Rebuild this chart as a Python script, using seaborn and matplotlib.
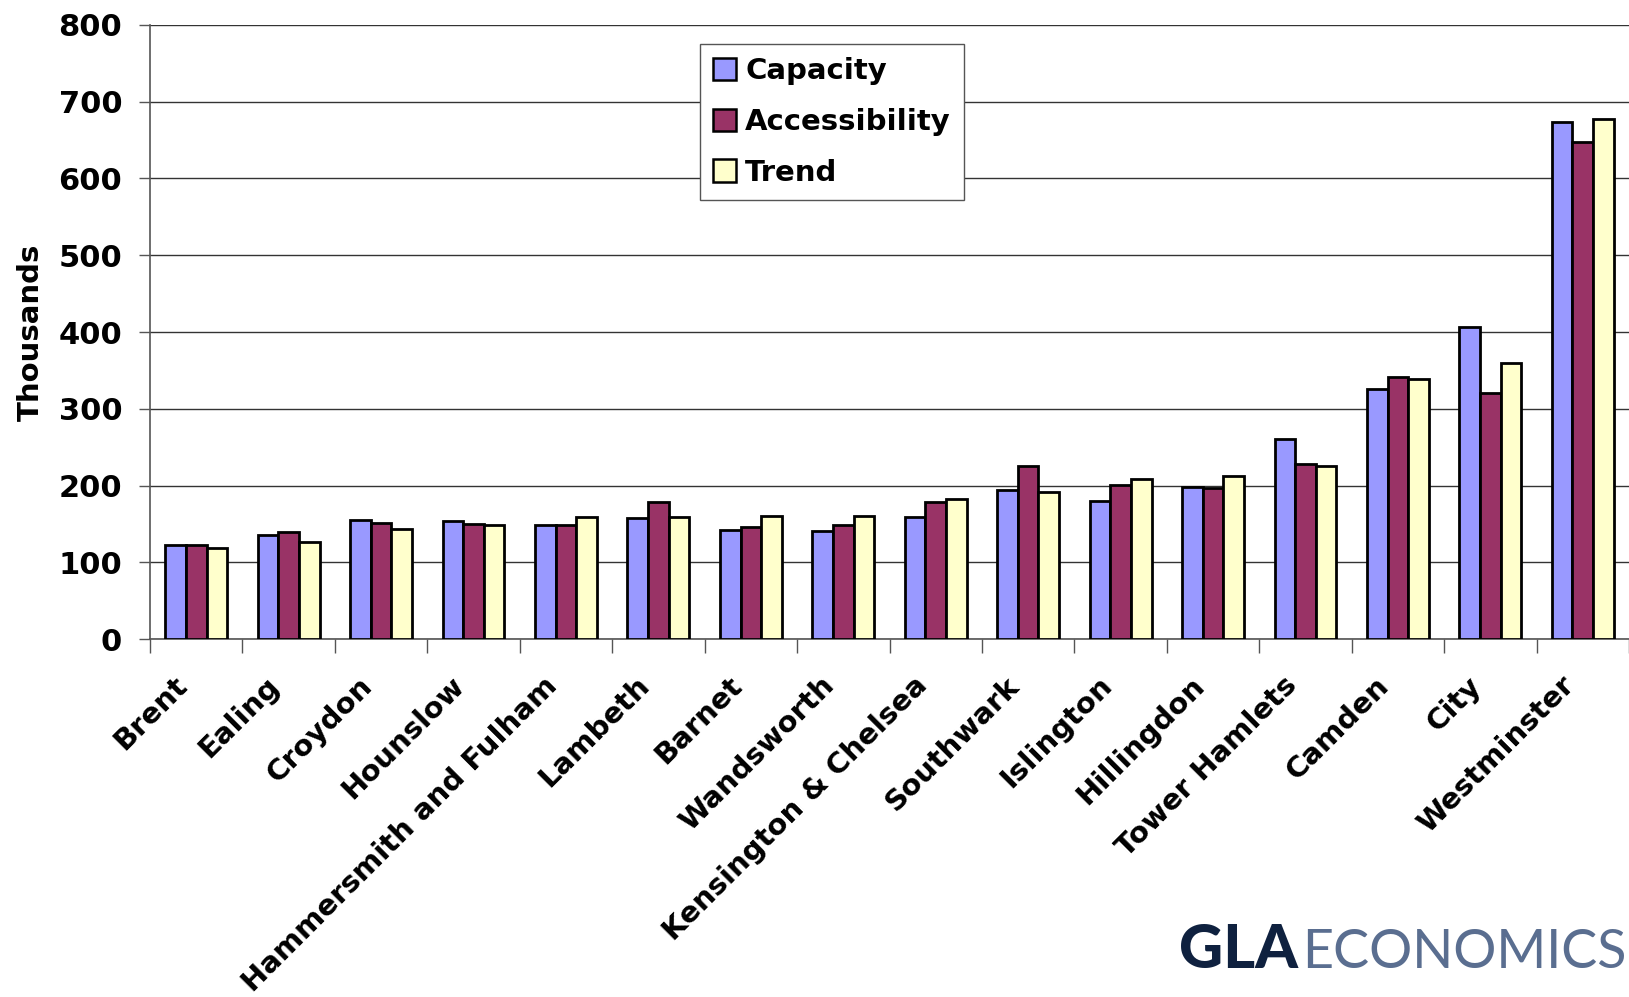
import matplotlib
matplotlib.use("Agg")
import matplotlib.pyplot as plt
import matplotlib.transforms as mtransforms
from matplotlib.ticker import FixedLocator
import seaborn as sns
import pandas as pd
import numpy as np

boroughs = ["Brent", "Ealing", "Croydon", "Hounslow", "Hammersmith and Fulham",
            "Lambeth", "Barnet", "Wandsworth", "Kensington & Chelsea", "Southwark",
            "Islington", "Hillingdon", "Tower Hamlets", "Camden", "City", "Westminster"]
capacity = [122, 136, 155, 154, 148, 158, 142, 141, 159, 194, 180, 198, 261, 326, 407, 674]
accessibility = [122, 140, 151, 150, 148, 179, 146, 149, 179, 225, 201, 197, 228, 342, 321, 648]
trend = [119, 126, 143, 148, 159, 159, 160, 160, 182, 191, 209, 212, 226, 339, 360, 677]
series_names = ["Capacity", "Accessibility", "Trend"]
series_colors = ["#9999FF", "#993366", "#FFFFCC"]
y_ticks = [0, 100, 200, 300, 400, 500, 600, 700, 800]

df = pd.DataFrame({
    "Borough": boroughs * 3,
    "Series": [s for s in series_names for _ in boroughs],
    "Value": capacity + accessibility + trend,
})

sns.set_style("white")
plt.rcParams["font.family"] = ["DejaVu Sans"]
plt.rcParams["text.color"] = "black"
plt.rcParams["axes.labelcolor"] = "black"
plt.rcParams["xtick.color"] = "black"
plt.rcParams["ytick.color"] = "black"

fig = plt.figure(figsize=(16.29, 9.97), dpi=100)
ax = fig.add_axes([150 / 1629, 1 - 639 / 997, 1 - 150 / 1629, (639 - 25) / 997])

sns.barplot(data=df, x="Borough", y="Value", hue="Series", order=boroughs,
            hue_order=series_names, palette=series_colors, width=0.67,
            edgecolor="black", linewidth=2.0, saturation=1, ax=ax, zorder=3)

ax.set_ylim(0, 800)
ax.set_xlim(-0.5, len(boroughs) - 0.5)
ax.set_yticks(y_ticks)
ax.yaxis.grid(True, color="#333333", linewidth=1.0, zorder=0)
ax.set_axisbelow(True)

for s in ["top", "right"]:
    ax.spines[s].set_visible(False)
for s in ["left", "bottom"]:
    ax.spines[s].set_color("#555555")
    ax.spines[s].set_linewidth(1.2)

ax.tick_params(axis="y", which="major", length=8, width=1.0, color="#555555",
               labelsize=22, pad=12, left=True, labelcolor="black")
for lbl in ax.get_yticklabels():
    lbl.set_fontweight("bold")

ax.set_xticks(np.arange(len(boroughs)))
ax.set_xticklabels(boroughs, rotation=45, ha="right", rotation_mode="anchor",
                   fontsize=21, fontweight="bold", color="black")
ax.tick_params(axis="x", which="major", length=0, pad=24)
shift = mtransforms.ScaledTranslation(-23 / 100, 1 / 100, fig.dpi_scale_trans)
for lbl in ax.get_xticklabels():
    lbl.set_transform(lbl.get_transform() + shift)
ax.xaxis.set_minor_locator(FixedLocator(np.arange(len(boroughs) + 1) - 0.5))
ax.tick_params(axis="x", which="minor", length=10, width=1.0, color="#555555", bottom=True)

ax.set_xlabel("")
ax.set_ylabel("Thousands", fontsize=21, fontweight="bold", labelpad=10, color="black")

leg = ax.legend(loc="upper left", bbox_to_anchor=((700 - 150) / 1479, (639 - 44) / 614),
                frameon=True, fancybox=False, edgecolor="#555555", framealpha=1,
                prop={"size": 21, "weight": "bold"}, handlelength=0.8, handleheight=0.8,
                handletextpad=0.3, labelspacing=0.78, borderpad=0.45, borderaxespad=0)
leg.get_frame().set_linewidth(1.0)
for h in leg.legend_handles:
    h.set_edgecolor("black")
    h.set_linewidth(1.8)

# Logo text
base_y = 1 - 968 / 997
gla = fig.text(1179 / 1629, base_y, "GLA", fontsize=44, fontweight="black",
               color="#0F213F", family="Lato", ha="left", va="baseline")
eco = fig.text(1302 / 1629, base_y, "ECONOMICS", fontsize=44, fontweight="normal",
               color="#5A6E90", family="Lato", ha="left", va="baseline")
renderer = fig.canvas.get_renderer()
target_w = 1627 - 1302
w = eco.get_window_extent(renderer).width
if w > target_w:
    eco.set_fontsize(44 * target_w / w)

fig.savefig("out.png", dpi=100)
